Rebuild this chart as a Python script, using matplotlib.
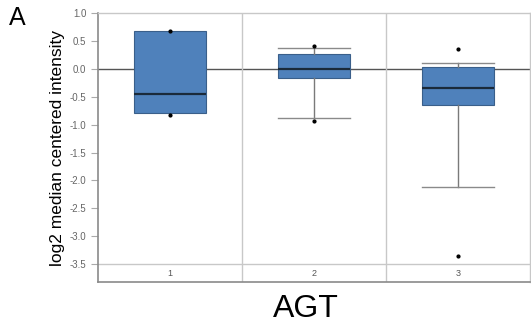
import matplotlib
matplotlib.use("Agg")
import matplotlib.pyplot as plt

# box statistics
groups = ["1", "2", "3"]
q1 = [-0.80, -0.17, -0.65]
med = [-0.46, 0.00, -0.34]
q3 = [0.67, 0.26, 0.03]
whislo = [-0.80, -0.88, -2.12]
whishi = [0.67, 0.37, 0.11]
fliers = [[0.67, -0.82], [0.41, -0.93], [0.355, -3.36]]
yticks = [1.0, 0.5, 0.0, -0.5, -1.0, -1.5, -2.0, -2.5, -3.0, -3.5]

plt.rcParams['font.family'] = ['Liberation Sans', 'DejaVu Sans']

fig = plt.figure(figsize=(5.31, 3.31), dpi=100)
ax = fig.add_axes([0.1846, 0.148, 0.8134, 0.8127])

stats = []
for i in range(len(groups)):
    stats.append(dict(q1=q1[i], med=med[i], q3=q3[i], whislo=whislo[i],
                      whishi=whishi[i], fliers=fliers[i], label=groups[i]))

res = ax.bxp(stats, positions=range(1, len(groups) + 1), widths=0.5, patch_artist=True,
             boxprops=dict(facecolor="#4f81bb", edgecolor="#3a5f8a", linewidth=0.8),
             medianprops=dict(color="#1a2a3a", linewidth=1.6),
             whiskerprops=dict(color="#7a7a7a", linewidth=1.0),
             capprops=dict(color="#8a8a8a", linewidth=1.0),
             flierprops=dict(marker="o", markersize=2, markerfacecolor="black",
                             markeredgecolor="black"),
             capwidths=0.5)

# box 1 has no whiskers
for c in res["caps"][:2]:
    c.set_visible(False)

ax.set_xlim(0.5, 3.5)
ax.set_ylim(-3.82, 1.0)
ax.axhline(0, color="#555555", linewidth=1.0, zorder=0)
ax.axhline(-3.5, color="#c8c8c8", linewidth=1.0, zorder=0)
for x in [1.5, 2.5]:
    ax.axvline(x, color="#c8c8c8", linewidth=1.0, zorder=0)

for i, g in enumerate(groups):
    ax.text(i + 1, (-3.5 + ax.get_ylim()[0]) / 2, g, ha="center", va="center",
            fontsize=6.5, color="#555555")

ax.set_xticks([])
ax.set_yticks(yticks)
ax.set_yticklabels(["%.1f" % v for v in yticks])
ax.tick_params(axis="y", labelsize=7, labelcolor="#666666", color="#aaaaaa",
               length=5, width=0.8)

for s in ["left", "bottom"]:
    ax.spines[s].set_color("#8a8a8a")
    ax.spines[s].set_linewidth(1.2)
for s in ["top", "right"]:
    ax.spines[s].set_color("#c8c8c8")
    ax.spines[s].set_linewidth(1.0)

ax.set_ylabel("log2 median centered intensity", fontsize=12.5, color="black", labelpad=3)

fig.text(0.016, 0.91, "A", fontsize=18, color="black", ha="left", va="bottom")
fig.text(306 / 531, 0.022, "AGT", fontsize=23, color="black", ha="center", va="bottom")

fig.savefig("out.png", dpi=100)
